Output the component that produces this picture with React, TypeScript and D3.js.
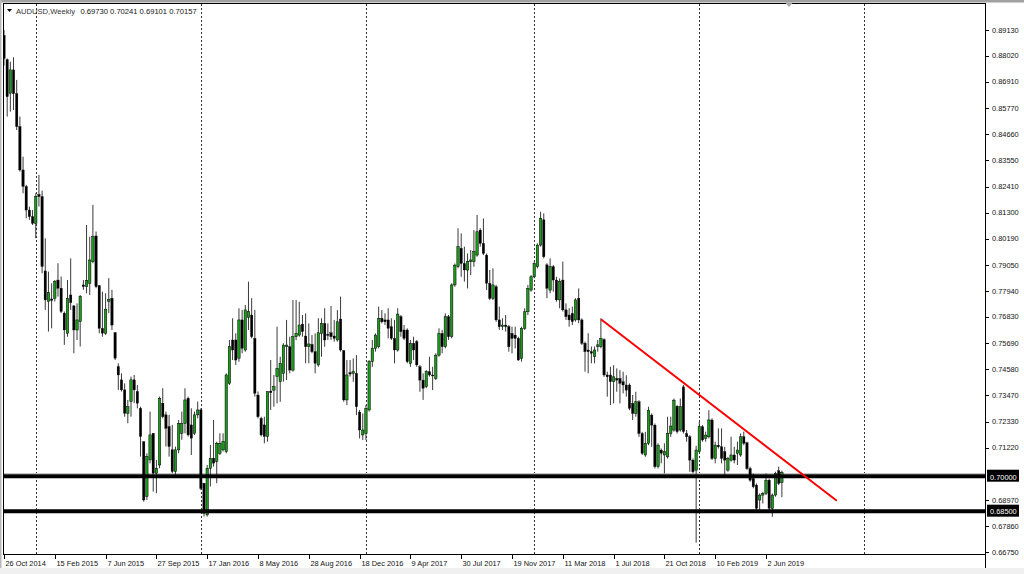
import React from 'react';
import * as d3 from 'd3';

const W = 1024;
const H = 574;

// Weekly AUDUSD candles [open, high, low, close], starting week of 26 Oct 2014
const ohlc: [number, number, number, number][] = [
  [0.8890, 0.8913, 0.8760, 0.8790], [0.8786, 0.8791, 0.8542, 0.8627], [0.8642, 0.8777, 0.8563, 0.8742], [0.8742, 0.8796, 0.8570, 0.8640],
  [0.8640, 0.8699, 0.8484, 0.8499], [0.8499, 0.8542, 0.8306, 0.8313], [0.8313, 0.8370, 0.8213, 0.8242], [0.8242, 0.8249, 0.8106, 0.8141],
  [0.8141, 0.8156, 0.8099, 0.8113], [0.8113, 0.8141, 0.8077, 0.8084], [0.8084, 0.8213, 0.8020, 0.8199], [0.8208, 0.8292, 0.8156, 0.8199],
  [0.8199, 0.8224, 0.7870, 0.7899], [0.7880, 0.8020, 0.7713, 0.7756], [0.7749, 0.7877, 0.7620, 0.7787], [0.7760, 0.7827, 0.7634, 0.7753],
  [0.7763, 0.7841, 0.7749, 0.7834], [0.7841, 0.7913, 0.7770, 0.7806], [0.7806, 0.7856, 0.7699, 0.7706], [0.7699, 0.7706, 0.7563, 0.7627],
  [0.7613, 0.7841, 0.7598, 0.7763], [0.7777, 0.7934, 0.7713, 0.7744], [0.7730, 0.7734, 0.7527, 0.7627], [0.7627, 0.7741, 0.7584, 0.7670],
  [0.7663, 0.7777, 0.7556, 0.7770], [0.7820, 0.7841, 0.7799, 0.7813], [0.7813, 0.8077, 0.7784, 0.7838], [0.7827, 0.8027, 0.7777, 0.7927],
  [0.7920, 0.8163, 0.7913, 0.8027], [0.8030, 0.8049, 0.7806, 0.7813], [0.7817, 0.7820, 0.7613, 0.7634], [0.7634, 0.7791, 0.7598, 0.7613],
  [0.7613, 0.7784, 0.7606, 0.7716], [0.7749, 0.7849, 0.7699, 0.7758], [0.7763, 0.7799, 0.7627, 0.7648], [0.7616, 0.7616, 0.7498, 0.7506],
  [0.7470, 0.7484, 0.7370, 0.7434], [0.7413, 0.7441, 0.7363, 0.7370], [0.7370, 0.7398, 0.7255, 0.7270], [0.7270, 0.7327, 0.7227, 0.7298],
  [0.7320, 0.7427, 0.7255, 0.7413], [0.7413, 0.7434, 0.7313, 0.7370], [0.7363, 0.7391, 0.7291, 0.7313], [0.7291, 0.7298, 0.7084, 0.7170],
  [0.7148, 0.7148, 0.6891, 0.6898], [0.6913, 0.7098, 0.6898, 0.7084], [0.7070, 0.7277, 0.7055, 0.7177], [0.7184, 0.7184, 0.6934, 0.7013],
  [0.7013, 0.7070, 0.6927, 0.7034], [0.7048, 0.7341, 0.7034, 0.7334], [0.7313, 0.7377, 0.7248, 0.7255], [0.7263, 0.7277, 0.7127, 0.7205],
  [0.7213, 0.7263, 0.7084, 0.7127], [0.7113, 0.7220, 0.7013, 0.7020], [0.7020, 0.7127, 0.7005, 0.7113], [0.7113, 0.7241, 0.7098, 0.7227],
  [0.7184, 0.7277, 0.7156, 0.7227], [0.7227, 0.7377, 0.7184, 0.7327], [0.7334, 0.7341, 0.7170, 0.7177], [0.7220, 0.7291, 0.7091, 0.7163],
  [0.7184, 0.7277, 0.7177, 0.7263], [0.7263, 0.7320, 0.7248, 0.7284], [0.7284, 0.7291, 0.6941, 0.6948], [0.6970, 0.6970, 0.6827, 0.6841],
  [0.6834, 0.7048, 0.6827, 0.7034], [0.7034, 0.7134, 0.6956, 0.7077], [0.7077, 0.7241, 0.7041, 0.7056], [0.7063, 0.7148, 0.6970, 0.7141],
  [0.7098, 0.7184, 0.7091, 0.7141], [0.7113, 0.7184, 0.7106, 0.7148], [0.7106, 0.7441, 0.7098, 0.7434], [0.7398, 0.7584, 0.7391, 0.7556],
  [0.7584, 0.7677, 0.7498, 0.7541], [0.7584, 0.7613, 0.7477, 0.7498], [0.7506, 0.7720, 0.7491, 0.7670], [0.7670, 0.7713, 0.7527, 0.7548],
  [0.7541, 0.7734, 0.7534, 0.7713], [0.7680, 0.7834, 0.7627, 0.7706], [0.7691, 0.7763, 0.7591, 0.7598], [0.7591, 0.7713, 0.7341, 0.7356],
  [0.7348, 0.7363, 0.7248, 0.7255], [0.7248, 0.7255, 0.7170, 0.7177], [0.7220, 0.7255, 0.7141, 0.7170], [0.7170, 0.7363, 0.7148, 0.7363],
  [0.7365, 0.7498, 0.7284, 0.7358], [0.7369, 0.7434, 0.7298, 0.7384], [0.7427, 0.7641, 0.7312, 0.7462], [0.7405, 0.7512, 0.7319, 0.7484],
  [0.7441, 0.7570, 0.7405, 0.7562], [0.7555, 0.7670, 0.7412, 0.7562], [0.7555, 0.7598, 0.7441, 0.7455], [0.7455, 0.7755, 0.7448, 0.7598],
  [0.7598, 0.7755, 0.7584, 0.7612], [0.7605, 0.7748, 0.7598, 0.7648], [0.7652, 0.7691, 0.7598, 0.7620], [0.7601, 0.7698, 0.7484, 0.7555],
  [0.7555, 0.7655, 0.7484, 0.7567], [0.7565, 0.7605, 0.7527, 0.7534], [0.7534, 0.7612, 0.7441, 0.7484], [0.7477, 0.7677, 0.7469, 0.7615],
  [0.7612, 0.7677, 0.7512, 0.7655], [0.7655, 0.7720, 0.7555, 0.7584], [0.7608, 0.7655, 0.7584, 0.7605], [0.7615, 0.7730, 0.7584, 0.7598],
  [0.7601, 0.7670, 0.7577, 0.7591], [0.7584, 0.7712, 0.7577, 0.7662], [0.7674, 0.7770, 0.7534, 0.7541], [0.7538, 0.7541, 0.7319, 0.7327],
  [0.7327, 0.7498, 0.7305, 0.7434], [0.7444, 0.7498, 0.7427, 0.7438], [0.7441, 0.7505, 0.7405, 0.7448], [0.7441, 0.7519, 0.7262, 0.7298],
  [0.7275, 0.7284, 0.7162, 0.7198], [0.7177, 0.7269, 0.7155, 0.7198], [0.7184, 0.7305, 0.7155, 0.7291], [0.7284, 0.7498, 0.7277, 0.7491],
  [0.7491, 0.7584, 0.7469, 0.7548], [0.7548, 0.7612, 0.7534, 0.7605], [0.7555, 0.7727, 0.7548, 0.7677], [0.7677, 0.7712, 0.7655, 0.7662],
  [0.7670, 0.7698, 0.7648, 0.7662], [0.7670, 0.7720, 0.7591, 0.7634], [0.7641, 0.7677, 0.7584, 0.7591], [0.7591, 0.7670, 0.7484, 0.7541],
  [0.7541, 0.7720, 0.7534, 0.7695], [0.7684, 0.7691, 0.7598, 0.7620], [0.7627, 0.7648, 0.7584, 0.7591], [0.7627, 0.7634, 0.7484, 0.7491],
  [0.7484, 0.7584, 0.7469, 0.7570], [0.7570, 0.7598, 0.7498, 0.7541], [0.7577, 0.7584, 0.7469, 0.7477], [0.7469, 0.7477, 0.7362, 0.7412],
  [0.7412, 0.7441, 0.7327, 0.7377], [0.7384, 0.7455, 0.7377, 0.7448], [0.7448, 0.7512, 0.7427, 0.7434], [0.7434, 0.7469, 0.7369, 0.7432],
  [0.7419, 0.7527, 0.7412, 0.7519], [0.7519, 0.7634, 0.7512, 0.7612], [0.7612, 0.7627, 0.7527, 0.7555], [0.7555, 0.7698, 0.7548, 0.7684],
  [0.7684, 0.7691, 0.7584, 0.7598], [0.7598, 0.7827, 0.7591, 0.7820], [0.7820, 0.7912, 0.7812, 0.7905], [0.7898, 0.8063, 0.7891, 0.7984],
  [0.7977, 0.8041, 0.7855, 0.7912], [0.7912, 0.7984, 0.7834, 0.7884], [0.7884, 0.7955, 0.7805, 0.7920], [0.7920, 0.7970, 0.7862, 0.7927],
  [0.7920, 0.8055, 0.7898, 0.7963], [0.7948, 0.8120, 0.7941, 0.8048], [0.8055, 0.8063, 0.7984, 0.7998], [0.7998, 0.8105, 0.7948, 0.7955],
  [0.7948, 0.7955, 0.7798, 0.7827], [0.7827, 0.7884, 0.7755, 0.7762], [0.7762, 0.7891, 0.7755, 0.7820], [0.7812, 0.7820, 0.7662, 0.7670],
  [0.7670, 0.7727, 0.7627, 0.7641], [0.7641, 0.7677, 0.7627, 0.7648], [0.7648, 0.7691, 0.7620, 0.7641], [0.7641, 0.7648, 0.7534, 0.7555],
  [0.7612, 0.7641, 0.7527, 0.7591], [0.7605, 0.7641, 0.7548, 0.7591], [0.7591, 0.7598, 0.7495, 0.7498], [0.7505, 0.7641, 0.7491, 0.7634],
  [0.7634, 0.7720, 0.7627, 0.7705], [0.7705, 0.7820, 0.7691, 0.7805], [0.7798, 0.7862, 0.7791, 0.7855], [0.7855, 0.7920, 0.7848, 0.7912],
  [0.7898, 0.7998, 0.7891, 0.7991], [0.7991, 0.8134, 0.7984, 0.8106], [0.8099, 0.8127, 0.7934, 0.7941], [0.7906, 0.7913, 0.7763, 0.7806],
  [0.7798, 0.7934, 0.7784, 0.7898], [0.7898, 0.7905, 0.7791, 0.7841], [0.7841, 0.7855, 0.7748, 0.7756], [0.7756, 0.7848, 0.7720, 0.7834],
  [0.7841, 0.7920, 0.7706, 0.7713], [0.7713, 0.7741, 0.7670, 0.7684], [0.7691, 0.7720, 0.7641, 0.7670], [0.7698, 0.7727, 0.7648, 0.7663],
  [0.7670, 0.7763, 0.7663, 0.7756], [0.7763, 0.7805, 0.7656, 0.7670], [0.7670, 0.7677, 0.7563, 0.7570], [0.7570, 0.7577, 0.7448, 0.7534],
  [0.7541, 0.7613, 0.7441, 0.7534], [0.7534, 0.7556, 0.7484, 0.7527], [0.7513, 0.7556, 0.7484, 0.7541], [0.7556, 0.7584, 0.7534, 0.7563],
  [0.7556, 0.7677, 0.7548, 0.7591], [0.7586, 0.7591, 0.7426, 0.7434], [0.7434, 0.7448, 0.7341, 0.7426], [0.7434, 0.7469, 0.7305, 0.7405],
  [0.7405, 0.7476, 0.7312, 0.7426], [0.7419, 0.7462, 0.7362, 0.7412], [0.7419, 0.7455, 0.7312, 0.7398], [0.7405, 0.7448, 0.7355, 0.7391],
  [0.7391, 0.7433, 0.7341, 0.7369], [0.7391, 0.7398, 0.7283, 0.7291], [0.7312, 0.7348, 0.7241, 0.7269], [0.7269, 0.7362, 0.7255, 0.7319],
  [0.7319, 0.7326, 0.7169, 0.7183], [0.7183, 0.7190, 0.7091, 0.7098], [0.7091, 0.7190, 0.7083, 0.7141], [0.7141, 0.7298, 0.7133, 0.7283],
  [0.7262, 0.7269, 0.7126, 0.7219], [0.7219, 0.7226, 0.7033, 0.7041], [0.7041, 0.7141, 0.7033, 0.7133], [0.7112, 0.7119, 0.7055, 0.7098],
  [0.7091, 0.7141, 0.7012, 0.7105], [0.7083, 0.7255, 0.7076, 0.7183], [0.7183, 0.7255, 0.7169, 0.7215], [0.7198, 0.7333, 0.7191, 0.7326],
  [0.7300, 0.7305, 0.7183, 0.7191], [0.7198, 0.7333, 0.7191, 0.7298], [0.7383, 0.7391, 0.7183, 0.7191], [0.7183, 0.7198, 0.7148, 0.7169],
  [0.7169, 0.7176, 0.7019, 0.7069], [0.7069, 0.7076, 0.7012, 0.7019], [0.7026, 0.7130, 0.6715, 0.7112], [0.7105, 0.7233, 0.7098, 0.7212],
  [0.7212, 0.7219, 0.7148, 0.7155], [0.7162, 0.7191, 0.7148, 0.7176], [0.7169, 0.7283, 0.7162, 0.7241], [0.7241, 0.7248, 0.7069, 0.7076],
  [0.7076, 0.7148, 0.7055, 0.7133], [0.7133, 0.7205, 0.7119, 0.7126], [0.7126, 0.7205, 0.7055, 0.7076], [0.7105, 0.7126, 0.7005, 0.7069],
  [0.7026, 0.7083, 0.7019, 0.7076], [0.7069, 0.7169, 0.7062, 0.7091], [0.7091, 0.7126, 0.7055, 0.7069], [0.7098, 0.7148, 0.7048, 0.7112],
  [0.7091, 0.7183, 0.7083, 0.7169], [0.7169, 0.7191, 0.7133, 0.7141], [0.7143, 0.7148, 0.7026, 0.7033], [0.7033, 0.7041, 0.6976, 0.6983],
  [0.6990, 0.7012, 0.6948, 0.6955], [0.6962, 0.6969, 0.6855, 0.6862], [0.6898, 0.6926, 0.6855, 0.6919], [0.6919, 0.6933, 0.6883, 0.6926],
  [0.6926, 0.7012, 0.6919, 0.6983], [0.6983, 0.6990, 0.6855, 0.6862], [0.6862, 0.6926, 0.6826, 0.6919], [0.6919, 0.7019, 0.6912, 0.7012],
  [0.7023, 0.7041, 0.6962, 0.6969], [0.69730, 0.70241, 0.69101, 0.70157],
];

// Date labels, every 16 weekly bars
const dateLabels = [
  '26 Oct 2014', '15 Feb 2015', '7 Jun 2015', '27 Sep 2015', '17 Jan 2016', '8 May 2016',
  '28 Aug 2016', '18 Dec 2016', '9 Apr 2017', '30 Jul 2017', '19 Nov 2017', '11 Mar 2018',
  '1 Jul 2018', '21 Oct 2018', '10 Feb 2019', '2 Jun 2019',
];
const dateLabelStep = 16;

// Visible price-axis labels (the 0.70110 one is hidden behind the level box)
const priceTicks = [
  0.89130, 0.88020, 0.86910, 0.85770, 0.84660, 0.83550, 0.82410, 0.81300, 0.80190, 0.79050,
  0.77940, 0.76830, 0.75690, 0.74580, 0.73470, 0.72330, 0.71220, 0.68970, 0.67860, 0.66750,
];

// Year separators (bar index of first week of each year)
const separatorBars = [10, 62, 114, 167, 219, 271];

// Horizontal support levels
const levels = [0.70000, 0.68500];
const bidPrice = 0.70157;

// Trend line: bar index, price
const trendBars = [188, 262.3];
const trendPrices = [0.7673, 0.6895];

const symbol = 'AUDUSD,Weekly';
const lastQuote = ['0.69730', '0.70241', '0.69101', '0.70157'];

const PL = 3, PT = 4, PR = 985, PB = 554;
const FONT = '"Liberation Sans", Arial, sans-serif';

export default function App() {
  const x = d3.scaleLinear().domain([0, 240]).range([4, 766]);
  const y = d3.scaleLinear().domain([0.6675, 0.8913]).range([552, 30]);
  const bodyW = 2.4;
  const green = '#1a9c1a';
  const crisp = (v: number) => Math.round(v) + 0.5;

  const trendLine = d3.line<number>()
    .x((_, i) => x(trendBars[i]))
    .y((d) => y(d));

  const boxTop0 = y(levels[0]) - 6.5;

  return (
    <svg width={W} height={H} style={{ position: 'fixed', left: 0, top: 0, background: '#fff' }}
      xmlns="http://www.w3.org/2000/svg">
      <defs>
        <clipPath id="plot">
          <rect x={PL} y={PT} width={PR - PL} height={PB - PT} />
        </clipPath>
        <clipPath id="bidclip">
          <rect x={986} y={boxTop0} width={36} height={2.5} />
        </clipPath>
      </defs>
      <rect x={0} y={0} width={W} height={H} fill="#fff" />
      {/* window chrome */}
      <rect x={0} y={0} width={W} height={2.5} fill="#a0a0a0" />
      <rect x={0} y={0} width={1.5} height={H} fill="#b8b8b8" />
      <rect x={0} y={568} width={W} height={6} fill="#f0f0f0" />

      {/* period separators */}
      {separatorBars.map((b) => (
        <line key={'s' + b} x1={crisp(x(b))} x2={crisp(x(b))} y1={PT} y2={PB}
          stroke="#333" strokeWidth={1} strokeDasharray="2 2" />
      ))}

      <g clipPath="url(#plot)">
        {/* bid line */}
        <line x1={PL} x2={PR} y1={crisp(y(bidPrice))} y2={crisp(y(bidPrice))} stroke="#c4c4c4" strokeWidth={1} />
        {/* candles */}
        {ohlc.map(([o, h, l, c], i) => {
          const cx = x(i);
          const up = c >= o;
          const top = y(Math.max(o, c));
          const bot = y(Math.min(o, c));
          return (
            <g key={i}>
              <line x1={cx} x2={cx} y1={y(h)} y2={y(l)} stroke="#3a3a3a" strokeWidth={1} />
              <rect x={cx - bodyW / 2} y={top} width={bodyW} height={Math.max(bot - top, 1)}
                fill={up ? green : '#000'} stroke="#000" strokeWidth={up ? 0.5 : 0.3} />
            </g>
          );
        })}
        {/* support levels */}
        {levels.map((lv) => (
          <line key={'l' + lv} x1={PL} x2={PR} y1={y(lv)} y2={y(lv)} stroke="#000" strokeWidth={4} />
        ))}
        {/* trend line */}
        <path d={trendLine(trendPrices) || ''} stroke="#ff0000" strokeWidth={2} fill="none" />
      </g>

      {/* frame */}
      <line x1={PL + 0.5} x2={PL + 0.5} y1={PT} y2={PB} stroke="#000" />
      <line x1={PL} x2={PR} y1={PT - 0.5} y2={PT - 0.5} stroke="#000" />
      <line x1={PR + 0.5} x2={PR + 0.5} y1={PT - 1} y2={568} stroke="#000" />
      <line x1={PL} x2={PR + 1} y1={PB + 0.5} y2={PB + 0.5} stroke="#000" />

      {/* chart shift marker */}
      <path d="M785,2.5 L793,2.5 L789,7 Z" fill="#a8a8a8" />

      {/* price axis */}
      {priceTicks.map((p) => (
        <g key={'p' + p}>
          <line x1={PR + 1} x2={PR + 4} y1={crisp(y(p))} y2={crisp(y(p))} stroke="#000" />
          <text x={992} y={y(p)} dy="0.35em" fontFamily={FONT} fontSize={7.4} fill="#111">
            {p.toFixed(5)}
          </text>
        </g>
      ))}
      {levels.map((lv) => (
        <g key={'lb' + lv}>
          <rect x={987} y={y(lv) - 6.5} width={32} height={12} fill="#000" />
          <text x={990} y={y(lv) + 0.5} dy="0.38em" fontFamily={FONT} fontSize={7.4} fill="#fff">
            {lv.toFixed(5)}
          </text>
        </g>
      ))}
      <g clipPath="url(#bidclip)">
        <text x={990} y={boxTop0 - 2.2} dy="0.35em" fontFamily={FONT} fontSize={7.4} fill="#d8d8d8">
          {bidPrice.toFixed(5)}
        </text>
      </g>

      {/* time axis */}
      {dateLabels.map((d, i) => {
        const tx = crisp(x(i * dateLabelStep));
        return (
          <g key={'d' + i}>
            <line x1={tx} x2={tx} y1={PB + 1} y2={PB + 5} stroke="#000" />
            <text x={tx + 1} y={563.5} dy="0.35em" fontFamily={FONT} fontSize={7.4} fill="#111">{d}</text>
          </g>
        );
      })}

      {/* title */}
      <path d="M7,9 L12,9 L9.5,12 Z" fill="#000" />
      <text x={16} y={11} dy="0.35em" fontFamily={FONT} fontSize={7.6} fill="#333">{symbol}</text>
      <text x={80.5} y={11} dy="0.35em" fontFamily={FONT} fontSize={7.6} fill="#111">{lastQuote.join(' ')}</text>
    </svg>
  );
}
